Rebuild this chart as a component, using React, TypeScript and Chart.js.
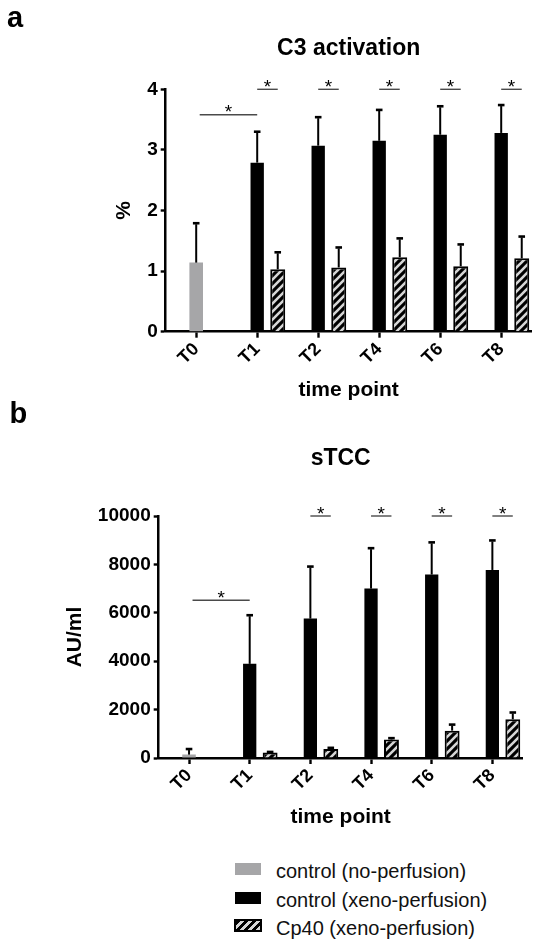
import React, { useEffect, useRef } from "react";
import { Chart, registerables } from "chart.js";

Chart.register(...registerables);

const FONT = "'Liberation Sans', Arial, Helvetica, sans-serif";

// ---------------- data ----------------
const timePoints = ["T0", "T1", "T2", "T4", "T6", "T8"];

// panel a: C3 activation (%)
const c3NoPerfusion = [1.14, null, null, null, null, null];
const c3NoPerfusionErr = [0.65, null, null, null, null, null];
const c3XenoPerfusion = [null, 2.79, 3.07, 3.15, 3.25, 3.28];
const c3XenoPerfusionErr = [null, 0.51, 0.47, 0.51, 0.47, 0.46];
const c3Cp40 = [null, 1.03, 1.06, 1.23, 1.08, 1.21];
const c3Cp40Err = [null, 0.28, 0.33, 0.31, 0.36, 0.36];
const c3YMax = 4;
const c3YStep = 1;
const c3SigT0T1Level = 3.58;
const c3SigPairs = ["T1", "T2", "T4", "T6", "T8"];
const c3SigPairLevel = 4;

// panel b: sTCC (AU/ml)
const tccNoPerfusion = [140, null, null, null, null, null];
const tccNoPerfusionErr = [230, null, null, null, null, null];
const tccXenoPerfusion = [null, 3890, 5760, 7000, 7580, 7770];
const tccXenoPerfusionErr = [null, 2010, 2150, 1670, 1330, 1220];
const tccCp40 = [null, 230, 370, 760, 1130, 1600];
const tccCp40Err = [null, 20, 50, 60, 250, 280];
const tccYMax = 10000;
const tccYStep = 2000;
const tccSigT0T1Level = 6520;
const tccSigPairs = ["T2", "T4", "T6", "T8"];
const tccSigPairLevel = 10000;

const seriesNames = [
  "control (no-perfusion)",
  "control (xeno-perfusion)",
  "Cp40 (xeno-perfusion)",
];

const GRAY = "#a6a6a8";
const STRIPE = "#d6d6d6";

// ---------------- helpers ----------------
function makeHatch(): CanvasPattern | string {
  const c = document.createElement("canvas");
  c.width = 8;
  c.height = 8;
  const g = c.getContext("2d");
  if (!g) return "#000";
  g.fillStyle = "#000";
  g.fillRect(0, 0, 8, 8);
  g.strokeStyle = STRIPE;
  g.lineWidth = 2.6;
  g.beginPath();
  g.moveTo(-1, 9);
  g.lineTo(9, -1);
  g.moveTo(-5, 5);
  g.lineTo(5, -5);
  g.moveTo(3, 13);
  g.lineTo(13, 3);
  g.stroke();
  return g.createPattern(c, "repeat") || "#000";
}

const decorPlugin = {
  id: "decor",
  afterDatasetsDraw(chart: any) {
    const ctx = chart.ctx;
    const yScale = chart.scales.y;
    chart.data.datasets.forEach((ds: any, di: number) => {
      const errs = ds.errors;
      if (!errs) return;
      const meta = chart.getDatasetMeta(di);
      meta.data.forEach((bar: any, i: number) => {
        const v = ds.data[i];
        const e = errs[i];
        if (v == null || e == null) return;
        const x = bar.x;
        const base = yScale.getPixelForValue(v);
        const top = yScale.getPixelForValue(v + e);
        ctx.save();
        ctx.strokeStyle = "#000";
        ctx.lineWidth = 2;
        ctx.beginPath();
        ctx.moveTo(x, base);
        ctx.lineTo(x, top + 1);
        ctx.stroke();
        ctx.lineWidth = 2.6;
        ctx.beginPath();
        ctx.moveTo(x - 3.3, top);
        ctx.lineTo(x + 3.3, top);
        ctx.stroke();
        ctx.restore();
      });
    });
  },
  afterDraw(chart: any, _args: any, opts: any) {
    const ctx = chart.ctx;
    const ca = chart.chartArea;
    const yScale = chart.scales.y;
    const labels = chart.data.labels as string[];
    ctx.save();
    // panel letter
    ctx.fillStyle = "#000";
    ctx.textBaseline = "alphabetic";
    ctx.textAlign = "left";
    ctx.font = `bold 29px ${FONT}`;
    ctx.fillText(opts.letter, opts.letterX, opts.letterY);
    // title
    ctx.textAlign = "center";
    ctx.font = `bold 23px ${FONT}`;
    ctx.fillText(opts.title, (ca.left + ca.right) / 2, opts.titleY);

    // significance marks
    const gray = chart.getDatasetMeta(0).data;
    const black = chart.getDatasetMeta(2).data;
    const hatch = chart.getDatasetMeta(3).data;
    const drawSig = (x1: number, x2: number, level: number) => {
      const py = yScale.getPixelForValue(level);
      ctx.strokeStyle = "#4a4a4a";
      ctx.lineWidth = 1.4;
      ctx.beginPath();
      ctx.moveTo(x1, py);
      ctx.lineTo(x2, py);
      ctx.stroke();
      ctx.fillStyle = "#000";
      ctx.font = `19px ${FONT}`;
      ctx.textAlign = "center";
      ctx.textBaseline = "alphabetic";
      ctx.fillText("*", (x1 + x2) / 2, py + 3.5);
    };
    drawSig(gray[0].x + 3.5, black[1].x, opts.t0t1Level);
    (opts.pairs as string[]).forEach((lbl) => {
      const i = labels.indexOf(lbl);
      if (i < 0) return;
      drawSig(black[i].x, hatch[i].x, opts.pairLevel);
    });
    ctx.restore();
  },
};

interface PanelSpec {
  noPerf: (number | null)[];
  noPerfErr: (number | null)[];
  xeno: (number | null)[];
  xenoErr: (number | null)[];
  cp40: (number | null)[];
  cp40Err: (number | null)[];
  yMax: number;
  yStep: number;
  yTitle: string;
  yTitleCenter: number;
  yAxisWidth: number;
  padTop: number;
  padRight: number;
  padBottom: number;
  xAxisHeight: number;
  letter: string;
  letterX: number;
  letterY: number;
  title: string;
  titleY: number;
  t0t1Level: number;
  pairs: string[];
  pairLevel: number;
}

function makeConfig(s: PanelSpec): any {
  const hatch = makeHatch();
  const catPct = 1.01;
  return {
    type: "bar",
    data: {
      labels: timePoints,
      datasets: [
        {
          label: seriesNames[0],
          data: s.noPerf,
          errors: s.noPerfErr,
          backgroundColor: GRAY,
          borderWidth: 0,
          grouped: false,
          categoryPercentage: 1,
          barPercentage: 0.223,
        },
        {
          label: "",
          data: timePoints.map(() => null),
          backgroundColor: "rgba(0,0,0,0)",
          categoryPercentage: catPct,
          barPercentage: 0.65,
        },
        {
          label: seriesNames[1],
          data: s.xeno,
          errors: s.xenoErr,
          backgroundColor: "#000",
          borderWidth: 0,
          categoryPercentage: catPct,
          barPercentage: 0.65,
        },
        {
          label: seriesNames[2],
          data: s.cp40,
          errors: s.cp40Err,
          backgroundColor: hatch,
          borderColor: "#000",
          borderWidth: 2,
          categoryPercentage: catPct,
          barPercentage: 0.73,
        },
      ],
    },
    options: {
      responsive: false,
      maintainAspectRatio: false,
      animation: false,
      events: [],
      layout: {
        padding: { left: 0, top: s.padTop, right: s.padRight, bottom: s.padBottom },
      },
      plugins: {
        legend: { display: false },
        tooltip: { enabled: false },
        title: { display: false },
        decor: {
          letter: s.letter,
          letterX: s.letterX,
          letterY: s.letterY,
          title: s.title,
          titleY: s.titleY,
          t0t1Level: s.t0t1Level,
          pairs: s.pairs,
          pairLevel: s.pairLevel,
        },
      },
      scales: {
        x: {
          type: "category",
          offset: true,
          z: 1,
          grid: {
            display: true,
            drawOnChartArea: false,
            drawTicks: true,
            tickLength: 6,
            tickWidth: 2.4,
            tickColor: "#000",
            offset: false,
          },
          border: { display: true, color: "#000", width: 2.5 },
          ticks: {
            color: "#000",
            font: { family: FONT, size: 18, weight: "bold" },
            minRotation: 45,
            maxRotation: 45,
            autoSkip: false,
            padding: 1,
          },
          title: {
            display: true,
            text: "time point",
            color: "#000",
            font: { family: FONT, size: 21, weight: "bold" },
            padding: { top: 0, bottom: 0 },
          },
          afterFit(scale: any) {
            scale.height = s.xAxisHeight;
          },
        },
        y: {
          min: 0,
          max: s.yMax,
          z: 1,
          grid: {
            display: true,
            drawOnChartArea: false,
            drawTicks: true,
            tickLength: 5,
            tickWidth: 2.4,
            tickColor: "#000",
          },
          border: { display: true, color: "#000", width: 2.5 },
          ticks: {
            stepSize: s.yStep,
            color: "#000",
            padding: 3,
            font: { family: FONT, size: 19, weight: "bold" },
            callback: (v: any) => String(v),
          },
          title: {
            display: true,
            text: s.yTitle,
            color: "#000",
            font: { family: FONT, size: 21, weight: "bold" },
            padding: { top: s.yTitleCenter - 12.6, bottom: 0 },
          },
          afterFit(scale: any) {
            scale.width = s.yAxisWidth;
          },
        },
      },
    },
    plugins: [decorPlugin],
  };
}

function Panel({ spec, top, height }: { spec: PanelSpec; top: number; height: number }) {
  const ref = useRef<HTMLCanvasElement | null>(null);
  useEffect(() => {
    if (!ref.current) return;
    const chart = new Chart(ref.current, makeConfig(spec));
    return () => chart.destroy();
  }, []);
  return (
    <canvas
      ref={ref}
      width={541}
      height={height}
      style={{ position: "absolute", left: 0, top, width: 541, height }}
    />
  );
}

const panelA: PanelSpec = {
  noPerf: c3NoPerfusion,
  noPerfErr: c3NoPerfusionErr,
  xeno: c3XenoPerfusion,
  xenoErr: c3XenoPerfusionErr,
  cp40: c3Cp40,
  cp40Err: c3Cp40Err,
  yMax: c3YMax,
  yStep: c3YStep,
  yTitle: "%",
  yTitleCenter: 124,
  yAxisWidth: 165.7,
  padTop: 89.3,
  padRight: 9.3,
  padBottom: 7,
  xAxisHeight: 71.3,
  letter: "a",
  letterX: 7,
  letterY: 26.7,
  title: "C3 activation",
  titleY: 55,
  t0t1Level: c3SigT0T1Level,
  pairs: c3SigPairs,
  pairLevel: c3SigPairLevel,
};

const panelB: PanelSpec = {
  noPerf: tccNoPerfusion,
  noPerfErr: tccNoPerfusionErr,
  xeno: tccXenoPerfusion,
  xenoErr: tccXenoPerfusionErr,
  cp40: tccCp40,
  cp40Err: tccCp40Err,
  yMax: tccYMax,
  yStep: tccYStep,
  yTitle: "AU/ml",
  yTitleCenter: 75,
  yAxisWidth: 158.7,
  padTop: 116,
  padRight: 18.3,
  padBottom: 15.4,
  xAxisHeight: 71.6,
  letter: "b",
  letterX: 9.5,
  letterY: 23.3,
  title: "sTCC",
  titleY: 65,
  t0t1Level: tccSigT0T1Level,
  pairs: tccSigPairs,
  pairLevel: tccSigPairLevel,
};

const legendBaselines = [878.3, 906.6, 934.9];

function LegendSwatch({ kind, top }: { kind: number; top: number }) {
  const base: React.CSSProperties = {
    position: "absolute",
    left: 235,
    top,
    width: 26,
    height: 12,
    boxSizing: "border-box",
  };
  if (kind === 0) return <div style={{ ...base, background: GRAY }} />;
  if (kind === 1) return <div style={{ ...base, background: "#000" }} />;
  return (
    <div
      style={{
        ...base,
        top: top - 0.5,
        height: 13,
        left: 234,
        width: 28,
        border: "2px solid #000",
        background: `repeating-linear-gradient(135deg, #000 0px, #000 3px, ${STRIPE} 3px, ${STRIPE} 5.8px)`,
      }}
    />
  );
}

export default function App() {
  return (
    <div
      style={{
        position: "absolute",
        left: 0,
        top: 0,
        width: 541,
        height: 947,
        background: "#fff",
        overflow: "hidden",
      }}
    >
      <Panel spec={panelA} top={0} height={410} />
      <Panel spec={panelB} top={400} height={445} />
      {seriesNames.map((name, i) => (
        <React.Fragment key={name}>
          <LegendSwatch kind={i} top={legendBaselines[i] - 15} />
          <div
            style={{
              position: "absolute",
              left: 276,
              top: legendBaselines[i] - 19,
              font: `20px ${FONT}`,
              lineHeight: "24px",
              color: "#111",
              whiteSpace: "nowrap",
            }}
          >
            {name}
          </div>
        </React.Fragment>
      ))}
    </div>
  );
}
